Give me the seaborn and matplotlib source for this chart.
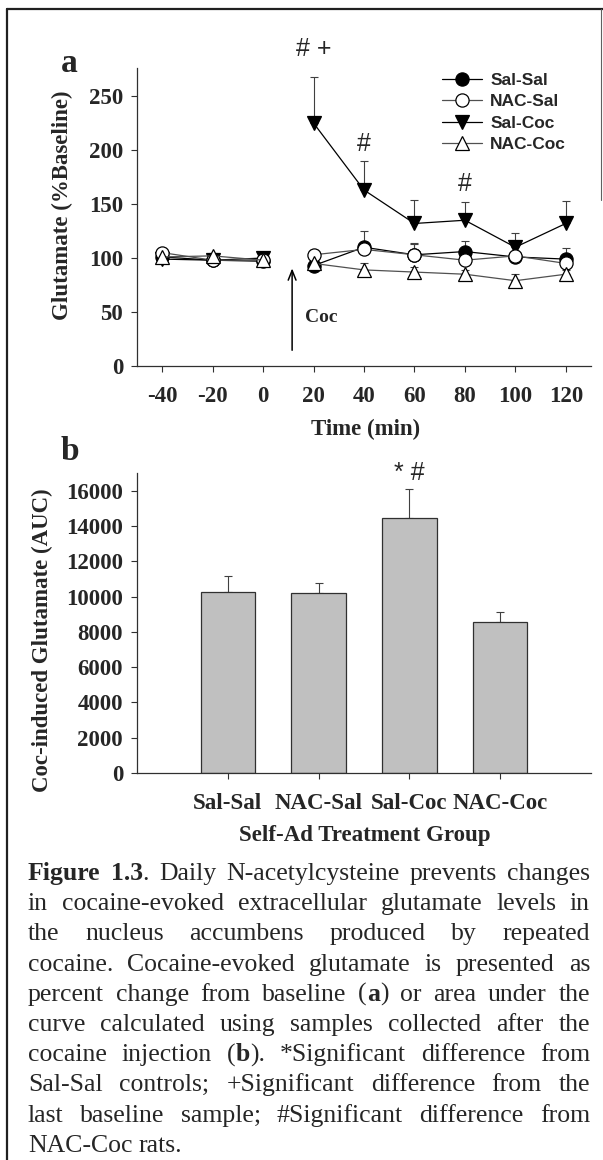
import numpy as np
import pandas as pd
import matplotlib
matplotlib.use("Agg")
import matplotlib.pyplot as plt
import seaborn as sns
from matplotlib.lines import Line2D

# ---- panel a: glutamate, % of baseline ----
time_min = [-40, -20, 0, 20, 40, 60, 80, 100, 120]
sal_sal = [101, 98, 97, 93, 110, 103, 106, 101, 99]
sal_sal_err = [3, 3, 3, 3, 15, 11, 10, 4, 10]
nac_sal = [105, 98, 98, 103, 108, 103, 98, 102, 95]
nac_sal_err = [3, 3, 3, 4, 6, 10, 4, 4, 4]
sal_coc = [99, 98, 100, 225, 163, 132, 135, 110, 132]
sal_coc_err = [3, 3, 3, 43, 27, 22, 17, 13, 21]
nac_coc = [101, 102, 98, 95, 89, 87, 85, 79, 85]
nac_coc_err = [3, 3, 3, 3, 6, 5, 4, 6, 4]
group_names = ["Sal-Sal", "NAC-Sal", "Sal-Coc", "NAC-Coc"]

# ---- panel b: area under the curve ----
auc_groups = ["Sal-Sal", "NAC-Sal", "Sal-Coc", "NAC-Coc"]
auc_values = [10250, 10220, 14450, 8560]
auc_err = [900, 550, 1650, 580]

caption_lines = [
    "**Figure 1.3**. Daily N-acetylcysteine prevents changes",
    "in cocaine-evoked extracellular glutamate levels in",
    "the nucleus accumbens produced by repeated",
    "cocaine. Cocaine-evoked glutamate is presented as",
    "percent change from baseline (**a**) or area under the",
    "curve calculated using samples collected after the",
    "cocaine injection (**b**). *Significant difference from",
    "Sal-Sal controls; +Significant difference from the",
    "last baseline sample; #Significant difference from",
    "NAC-Coc rats.",
]

series = {
    "Sal-Sal": (sal_sal, sal_sal_err),
    "NAC-Sal": (nac_sal, nac_sal_err),
    "Sal-Coc": (sal_coc, sal_coc_err),
    "NAC-Coc": (nac_coc, nac_coc_err),
}
rows = []
for g in group_names:
    vals, errs = series[g]
    for t, v, e in zip(time_min, vals, errs):
        rows.append({"group": g, "time": t, "value": v, "err": e,
                     "segment": "baseline" if t <= 0 else "post"})
df = pd.DataFrame(rows)

sns.set_style("ticks")
plt.rcParams["font.family"] = ["Liberation Serif", "DejaVu Serif"]
plt.rcParams["font.weight"] = "bold"
plt.rcParams["axes.labelweight"] = "bold"
plt.rcParams["axes.unicode_minus"] = False

W, H = 603, 1160
fig = plt.figure(figsize=(W / 100, H / 100), dpi=100)
fig.patch.set_facecolor("white")


def ax_rect(left, top, right, bottom):
    return [left / W, 1 - bottom / H, (right - left) / W, (bottom - top) / H]


ax = fig.add_axes(ax_rect(137, 68, 591, 366))
axb = fig.add_axes(ax_rect(137, 473, 591, 773))

styles = {
    "Sal-Sal": dict(marker="o", mfc="black", line="black", ms=9.5, z=4),
    "NAC-Sal": dict(marker="o", mfc="white", line="#505050", ms=9.5, z=5),
    "Sal-Coc": dict(marker="v", mfc="black", line="black", ms=10.5, z=3),
    "NAC-Coc": dict(marker="^", mfc="white", line="#505050", ms=10.5, z=6),
}

for g in group_names:
    sub = df[df["group"] == g]
    st = styles[g]
    ax.errorbar(sub["time"], sub["value"],
                yerr=[np.zeros(len(sub)), sub["err"]],
                fmt="none", ecolor="#404040", elinewidth=0.8,
                capsize=3, capthick=0.8, zorder=2)
    sns.lineplot(data=sub, x="time", y="value", units="segment",
                 estimator=None, ax=ax, color=st["line"], linewidth=0.9,
                 marker=st["marker"], markersize=st["ms"],
                 markerfacecolor=st["mfc"], markeredgecolor="black",
                 markeredgewidth=0.9, zorder=st["z"], legend=False)

ax.set_xlim(-50, 130)
ax.set_ylim(0, 276)
ax.set_xticks(time_min)
ax.set_yticks(range(0, 251, 50))

handles = [Line2D([], [], color=styles[g]["line"], lw=0.9,
                  marker=styles[g]["marker"], ms=styles[g]["ms"],
                  mfc=styles[g]["mfc"], mec="black", mew=0.9)
           for g in group_names]
leg = ax.legend(handles, group_names, loc="upper left",
                bbox_to_anchor=(433 / W, 1 - 64 / H),
                bbox_transform=fig.transFigure, frameon=False,
                borderpad=0, handlelength=2.3, handletextpad=0.5,
                labelspacing=0.36,
                prop=dict(family="Liberation Sans", weight="bold", size=12.5))

# cocaine injection arrow
ax.annotate("", xy=(11.5, 93), xytext=(11.5, 12),
            arrowprops=dict(arrowstyle="->,head_length=0.7,head_width=0.28",
                            lw=1.1, color="black"))
ax.text(16.5, 45, "Coc", fontsize=14, fontweight="bold", ha="left", va="center")

sig_kw = dict(family="Liberation Sans", weight="normal", fontsize=18,
              ha="center", va="center", clip_on=False)
ax.text(20, 294, "# +", **sig_kw)
ax.text(40, 206, "#", **sig_kw)
ax.text(80, 169, "#", **sig_kw)

# ---- bar chart ----
sns.barplot(x=auc_groups, y=auc_values, color="#c0c0c0", saturation=1,
            edgecolor="#303030", linewidth=0.9, width=0.6, errorbar=None,
            ax=axb)
axb.errorbar(range(len(auc_groups)), auc_values,
             yerr=[[0] * len(auc_err), auc_err], fmt="none",
             ecolor="#404040", elinewidth=0.8, capsize=3, capthick=0.8,
             zorder=0.5)
axb.set_xlim(-1, 4)
axb.set_ylim(0, 17000)
axb.set_yticks(range(0, 16001, 2000))
axb.text(2, 17000, "* #", **sig_kw)

for a in (ax, axb):
    sns.despine(ax=a)
    for s in ("left", "bottom"):
        a.spines[s].set_linewidth(0.9)
        a.spines[s].set_color("#303030")
    a.tick_params(axis="both", direction="out", length=4, width=0.8,
                  color="#303030", labelsize=16.5)
    a.tick_params(axis="y", pad=6)
    a.tick_params(axis="x", pad=10.5)
    for lab in a.get_xticklabels() + a.get_yticklabels():
        lab.set_fontweight("bold")

ax.set_xlabel("Time (min)", fontsize=16.5, fontweight="bold", va="center")
ax.xaxis.set_label_coords(0.504, (366 - 429) / 298)
ax.set_ylabel("Glutamate (%Baseline)", fontsize=16.5, fontweight="bold", va="center")
ax.yaxis.set_label_coords((62 - 137) / 454, (366 - 205) / 298)

axb.set_xlabel("Self-Ad Treatment Group", fontsize=16.5, fontweight="bold", va="center")
axb.xaxis.set_label_coords(0.502, (773 - 835) / 300)
axb.set_ylabel("Coc-induced Glutamate (AUC)", fontsize=16.5, fontweight="bold", va="center")
axb.yaxis.set_label_coords((42 - 137) / 454, (773 - 640) / 300)

fig.text(61 / W, 1 - 72 / H, "a", fontsize=24, fontweight="bold", va="baseline")
fig.text(61 / W, 1 - 460 / H, "b", fontsize=24, fontweight="bold", va="baseline")

# page frame
frame_kw = dict(color="#202020", lw=1.6, transform=fig.transFigure)
fig.add_artist(Line2D([7 / W, 7 / W], [1 - 9 / H, 0], **frame_kw))
fig.add_artist(Line2D([7 / W, 1.0], [1 - 9 / H, 1 - 9 / H], **frame_kw))
fig.add_artist(Line2D([601 / W, 601 / W], [1 - 9 / H, 1 - 200 / H],
                      color="#606060", lw=0.8, transform=fig.transFigure))


# ---- justified caption ----
def parse_line(line, state):
    words = []
    bold = state
    for w in line.split(" "):
        runs = []
        for i, p in enumerate(w.split("**")):
            if i > 0:
                bold = not bold
            if p:
                runs.append((p, bold))
        words.append(runs)
    return words, bold


fig.canvas.draw()
renderer = fig.canvas.get_renderer()
cap_size = 18.5
left_px, right_px = 28, 590
space_px = 0.25 * cap_size * 100 / 72
state = False
for li, line in enumerate(caption_lines):
    words, state = parse_line(line, state)
    base_y = 880 + 30.2 * li
    items = []
    for runs in words:
        wt = []
        for s, b in runs:
            t = fig.text(0, 1 - base_y / H, s, fontsize=cap_size,
                         family="Liberation Serif",
                         weight="bold" if b else "normal",
                         ha="left", va="baseline")
            wt.append((t, t.get_window_extent(renderer).width))
        items.append(wt)
    total = sum(w for wt in items for _, w in wt)
    if li == len(caption_lines) - 1 or len(items) < 2:
        gap = space_px
    else:
        gap = (right_px - left_px - total) / (len(items) - 1)
    x = left_px
    for wt in items:
        for t, w in wt:
            t.set_x(x / W)
            x += w
        x += gap

fig.savefig("out.png", dpi=100, facecolor="white")
